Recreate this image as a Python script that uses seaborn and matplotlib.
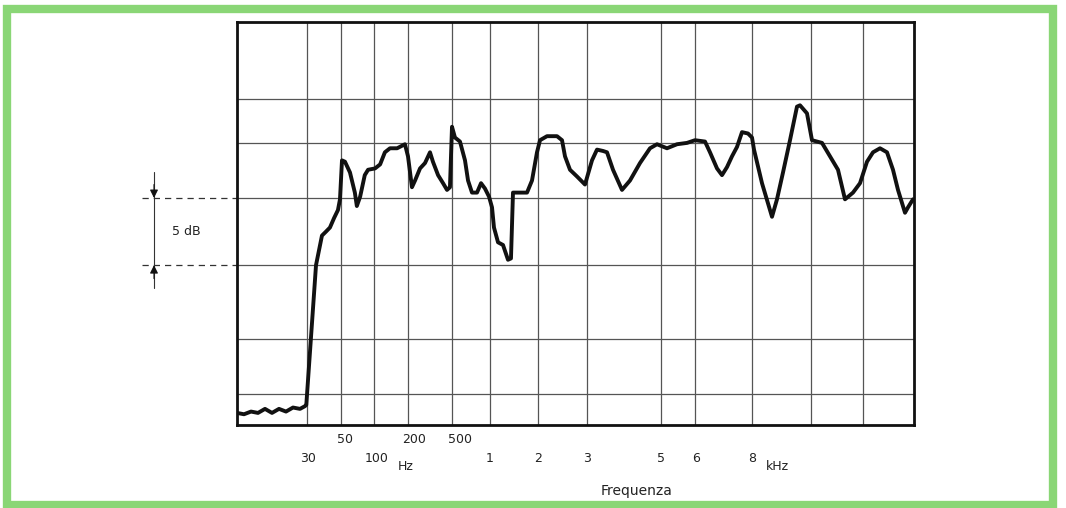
import numpy as np
import seaborn as sns
import matplotlib
matplotlib.use('Agg')
import matplotlib.pyplot as plt
import matplotlib.transforms as mtransforms
from matplotlib.patches import Rectangle

# frequency response (Hz, dB relative to the 0 reference)
freq = [20, 21, 22, 23, 24, 25, 26, 27, 28, 29, 29.7, 29.9,
        35.3, 38.8, 41.2, 43.5, 45.9, 48.2, 49.4, 51.5, 56, 63.6, 71, 74, 79, 86, 91,
        103, 118, 132, 147, 168, 191, 200, 227, 248, 282, 316, 350, 370, 405, 439, 466, 486,
        500, 539, 605, 671, 711, 763, 829, 882, 934, 987,
        1042, 1083, 1167, 1271, 1375, 1437, 1479, 1583, 1771, 1875, 1979,
        2041, 2184, 2388, 2490, 2551, 2653, 2796, 2959,
        3135, 3270, 3432, 3541, 3703, 3946, 4162, 4432, 4703, 4892,
        5176, 5471, 5765, 6000, 6351, 6526, 6772, 6947, 7123, 7298, 7474, 7649, 7860,
        8000, 8068, 8339, 8678, 8847, 9051, 9288, 9525, 9627, 9864,
        10096, 11058, 11827, 12596, 13269, 14038, 14712,
        15392, 15980, 16667, 17353, 17941, 18431, 19118, 19412, 19902]
level = [-16.0, -16.1, -15.9, -16.0, -15.7, -16.0, -15.7, -15.9, -15.6, -15.7, -15.5, -15.4,
         -5.0, -2.8, -2.5, -2.2, -1.5, -0.9, -0.1, 2.8, 2.7, 1.9, 0.4, -0.6, 0.1, 1.7, 2.1,
         2.2, 2.5, 3.4, 3.7, 3.7, 4.0, 3.1, 0.8, 1.3, 2.2, 2.6, 3.4, 2.7, 1.7, 1.1, 0.6, 0.8,
         5.3, 4.5, 4.2, 2.8, 1.3, 0.4, 0.4, 1.1, 0.7, 0.1,
         -0.7, -2.2, -3.3, -3.5, -4.6, -4.5, 0.4, 0.4, 0.4, 1.3, 3.4,
         4.3, 4.6, 4.6, 4.3, 3.1, 2.1, 1.6, 1.0,
         2.8, 3.6, 3.5, 3.4, 2.1, 0.6, 1.3, 2.6, 3.7, 4.0,
         3.7, 4.0, 4.1, 4.3, 4.2, 3.4, 2.2, 1.7, 2.3, 3.1, 3.8, 4.9, 4.8,
         4.5, 3.6, 1.1, -1.4, -0.1, 1.9, 4.3, 6.8, 6.9, 6.3,
         4.3, 4.1, 3.1, 2.1, -0.1, 0.4, 1.1,
         2.7, 3.4, 3.7, 3.4, 2.1, 0.6, -1.1, -0.7, -0.1]

# grid of the recorder paper
grid_freq = [30, 50, 100, 200, 500, 1000, 2000, 3000, 5000, 6000, 8000, 10000, 15000]
grid_db = [7.4, 4.1, 0, -5, -10.5, -14.6]

upper_labels = ['50', '200', '500']
upper_freq = [50, 200, 500]
lower_labels = ['30', '100', '1', '2', '3', '5', '6', '8']
lower_freq = [30, 100, 1000, 2000, 3000, 5000, 6000, 8000]

# the paper's frequency scale is not a clean log scale: piecewise mapping
scale_freq = [20, 30, 50, 100, 200, 500, 1000, 2000, 3000, 5000, 6000, 8000, 10000, 15000, 20000]
scale_pos = [0, 70, 104, 137, 171, 215, 253, 301, 350, 424, 458, 515, 574, 626, 677]


def fwd(f):
    return np.interp(f, scale_freq, scale_pos)


def inv(p):
    return np.interp(p, scale_pos, scale_freq)


sns.set_style('white')
plt.rcParams['font.family'] = ['DejaVu Sans']

fig = plt.figure(figsize=(10.66, 5.08), dpi=100)
ax = fig.add_axes([237 / 1066, 83 / 508, 677 / 1066, 403 / 508])

sns.lineplot(x=freq, y=level, ax=ax, color='#111111', linewidth=2.8,
             sort=False, estimator=None)

ax.set_xscale('function', functions=(fwd, inv))
ax.set_xlim(20, 20000)
ax.set_ylim(-16.9, 13.1)
ax.set_xticks(grid_freq)
ax.set_yticks(grid_db)
ax.set_xticklabels([])
ax.set_yticklabels([])
ax.tick_params(length=0)
ax.grid(True, color='#555555', linewidth=0.9)
ax.set_axisbelow(True)
for s in ax.spines.values():
    s.set_color('#111111')
    s.set_linewidth(2.0)

# frequency labels
tx = mtransforms.blended_transform_factory(ax.transData, ax.transAxes)
nudge_up = [4, 6, 8]
for lab, f, dx in zip(upper_labels, upper_freq, nudge_up):
    ax.annotate(lab, xy=(f, -0.035), xycoords=tx, xytext=(dx, 0), textcoords='offset pixels',
                ha='center', va='center', fontsize=9, color='#222222', annotation_clip=False)
nudge_low = [1, 3, 0, 0, 0, 0, 1, 0]
for lab, f, dx in zip(lower_labels, lower_freq, nudge_low):
    ax.annotate(lab, xy=(f, -0.082), xycoords=tx, xytext=(dx, 0), textcoords='offset pixels',
                ha='center', va='center', fontsize=9, color='#222222', annotation_clip=False)
ax.annotate('Hz', xy=(200, -0.102), xycoords=tx, xytext=(-2, 0), textcoords='offset pixels',
            ha='center', va='center', fontsize=9, color='#222222', annotation_clip=False)
ax.annotate('kHz', xy=(8000, -0.102), xycoords=tx, xytext=(25, 0), textcoords='offset pixels',
            ha='center', va='center', fontsize=9, color='#222222', annotation_clip=False)
ax.text(0.59, -0.164, 'Frequenza', transform=ax.transAxes, ha='center', va='center',
        fontsize=10, color='#222222')

# 5 dB scale marker on the left
ty = mtransforms.blended_transform_factory(ax.transAxes, ax.transData)
for yv in [0, -5]:
    ax.plot([-0.141, 0], [yv, yv], transform=ty, color='#333333', linewidth=0.9,
            linestyle=(0, (5, 4)), clip_on=False)
ax.plot([-0.1226, -0.1226], [1.9, -6.7], transform=ty, color='#333333', linewidth=0.8,
        clip_on=False)
arrow = dict(arrowstyle='-|>', color='#111111', linewidth=0.8, mutation_scale=12,
             shrinkA=0, shrinkB=0)
ax.annotate('', xy=(-0.1226, 0), xytext=(-0.1226, 1.0), xycoords=ty, arrowprops=arrow,
            annotation_clip=False)
ax.annotate('', xy=(-0.1226, -5), xytext=(-0.1226, -6.0), xycoords=ty, arrowprops=arrow,
            annotation_clip=False)
ax.text(-0.075, -2.5, '5 dB', transform=ty, ha='center', va='center', fontsize=9,
        color='#222222')

# green frame of the magazine figure
fig.patches.append(Rectangle((6.5 / 1066, 3.5 / 508), 1046.5 / 1066, 496 / 508,
                             transform=fig.transFigure, fill=False,
                             edgecolor='#8ad676', linewidth=6))

fig.savefig('out.png', dpi=100)
